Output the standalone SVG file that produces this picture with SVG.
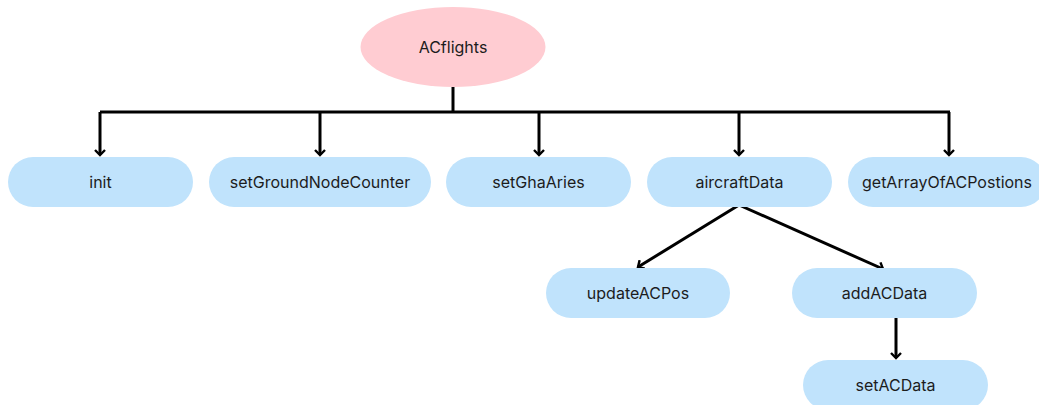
<svg xmlns="http://www.w3.org/2000/svg" width="1039" height="405" viewBox="0 0 1039 405">
  <defs>
    <style>
      .node rect { fill: #c0e3fc; }
      .root ellipse { fill: #ffccd2; }
      text { font-family: "Inter", "Noto Sans", "Liberation Sans", sans-serif; font-size: 16px; fill: #1c1c1c; text-anchor: middle; dominant-baseline: central; }
      .edge { fill: none; stroke: #000; stroke-width: 3; }
    </style>
    <marker id="arrow" viewBox="0 0 12 12" refX="6" refY="10" markerWidth="12" markerHeight="12" markerUnits="userSpaceOnUse" orient="auto-start-reverse">
      <path d="M1,5 L6,10 L11,5" fill="none" stroke="#000" stroke-width="2.4"/>
    </marker>
    <marker id="tip" viewBox="-6 -6 12 12" refX="0" refY="0" markerWidth="12" markerHeight="12" markerUnits="userSpaceOnUse" orient="auto">
      <path d="M-5,-5 L0,0 L-5,5" fill="none" stroke="#000" stroke-width="2.4"/>
    </marker>
  </defs>

  <!-- connectors -->
  <g id="connectors">
    <path class="edge" d="M453,87 V112"/>
    <path class="edge" d="M100,112 H950"/>
    <path class="edge" d="M100,112 V155" marker-end="url(#tip)"/>
    <path class="edge" d="M320,112 V155" marker-end="url(#tip)"/>
    <path class="edge" d="M539,112 V155" marker-end="url(#tip)"/>
    <path class="edge" d="M739,112 V155" marker-end="url(#tip)"/>
    <path class="edge" d="M949,112 V155" marker-end="url(#tip)"/>
    <path class="edge" d="M739,205 L638,267" marker-end="url(#tip)"/>
    <path class="edge" d="M739,205 L883,269" marker-end="url(#tip)"/>
    <path class="edge" d="M896,318 V358" marker-end="url(#tip)"/>
  </g>

  <g id="ACflights" class="root">
    <ellipse cx="453" cy="47" rx="92.5" ry="40"/>
    <text x="453" y="47">ACflights</text>
  </g>

  <g id="init" class="node">
    <rect x="8" y="157" width="185" height="50" rx="25"/>
    <text x="100.5" y="182">init</text>
  </g>

  <g id="setGroundNodeCounter" class="node">
    <rect x="209" y="157" width="222" height="50" rx="25"/>
    <text x="320" y="182">setGroundNodeCounter</text>
  </g>

  <g id="setGhaAries" class="node">
    <rect x="446" y="157" width="185" height="50" rx="25"/>
    <text x="538.5" y="182">setGhaAries</text>
  </g>

  <g id="aircraftData" class="node">
    <rect x="647" y="157" width="185" height="50" rx="25"/>
    <text x="739.5" y="182">aircraftData</text>
  </g>

  <g id="getArrayOfACPostions" class="node">
    <rect x="848" y="157" width="198" height="50" rx="25"/>
    <text x="947" y="182">getArrayOfACPostions</text>
  </g>

  <g id="updateACPos" class="node">
    <rect x="546" y="268" width="184" height="50" rx="25"/>
    <text x="638" y="293">updateACPos</text>
  </g>

  <g id="addACData" class="node">
    <rect x="792" y="268" width="185" height="50" rx="25"/>
    <text x="884.5" y="293">addACData</text>
  </g>

  <g id="setACData" class="node">
    <rect x="803" y="360" width="185" height="50" rx="25"/>
    <text x="895.5" y="385">setACData</text>
  </g>
</svg>
